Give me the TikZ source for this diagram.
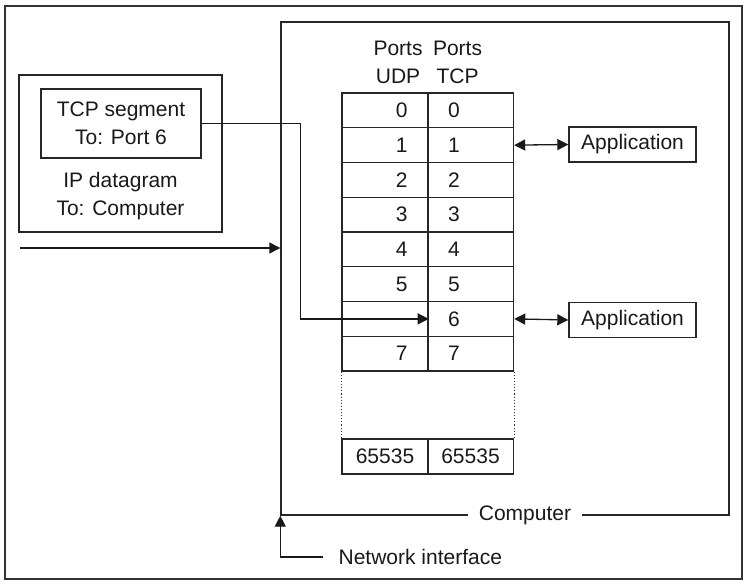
\documentclass[tikz,border=0pt]{standalone}
\usepackage{fontspec}
\setmainfont{Liberation Sans}
\usetikzlibrary{arrows.meta}
\begin{document}
\begin{tikzpicture}[x=1pt,y=-1pt,
  line width=1.3pt,
  every node/.style={font=\fontsize{21}{28}\selectfont, inner sep=0pt, text=black!90},
  box/.style={draw=black!85, line width=1.4pt},
  udpcell/.style={box, minimum width=86pt, minimum height=34.75pt, text width=45pt, align=right},
  tcpcell/.style={box, minimum width=86pt, minimum height=34.75pt, text width=45pt, align=left},
  maxcell/.style={box, minimum width=86pt, minimum height=35pt, align=center},
  appbox/.style={box, minimum width=127pt, minimum height=35pt},
  arr/.style={draw=black!90, line width=1.3pt, -{Triangle[length=11pt,width=11pt]}},
  dblarr/.style={draw=black!90, line width=1.3pt, {Triangle[length=11pt,width=11pt]}-{Triangle[length=11pt,width=11pt]}}
]
\useasboundingbox (0,0) rectangle (751,585);
% outer frame
\draw[draw=black!80, line width=1.4pt] (5,6) rectangle (742,579);

% computer box
\node[box, minimum width=448pt, minimum height=493pt] (comp) at (505,268.5) {};
\node[fill=white, inner xsep=11pt, inner ysep=3pt] (complbl) at ([xshift=20pt]comp.south) {Computer};

% IP datagram
\node[box, minimum width=203pt, minimum height=157pt] (ip) at (120.5,153.5) {};
\node[box, minimum width=160pt, minimum height=69pt, align=center] (tcp) at (121,123.5) {TCP segment\\To: Port 6};
\node[align=center] (iplbl) at (120.5,196.5) {IP datagram\\To: Computer};

% port headers
\node[align=center] (hudp) at (398,62.5) {Ports\\UDP};
\node[align=center] (htcp) at (457.5,62.5) {Ports\\TCP};

% port table
\foreach \i in {0,1,2,3,4,5,7}{
  \node[udpcell] (u\i) at (385,{93+34.75*(\i+0.5)}) {\i};
}
\node[udpcell] (u6) at (385,{93+34.75*6.5}) {};
\foreach \i in {0,...,7}{
  \node[tcpcell] (t\i) at (470.5,{93+34.75*(\i+0.5)}) {\i};
}
\node[maxcell] (umax) at (385,456.5) {65535};
\node[maxcell] (tmax) at (470.5,456.5) {65535};
\draw[dotted, line width=1.1pt, draw=black!80] (u7.south west) -- (umax.north west);
\draw[dotted, line width=1.1pt, draw=black!80] (t7.south east) -- (tmax.north east);

% applications
\node[appbox] (app1) at (632.5,144.5) {Application};
\node[appbox] (app2) at (632.5,320) {Application};
\draw[dblarr] (t1.east) -- (app1.west);
\draw[dblarr] (t6.east) -- (app2.west);

% TCP segment to port 6
\draw[arr] (tcp.east) -- ++(99,0) |- (u6.east);

% incoming datagram
\coordinate (src) at (20,248);
\draw[arr] (src) -- (src -| comp.west);

% network interface
\node[anchor=west] (net) at (338,557) {Network interface};
\draw[arr] ([xshift=-15pt]net.west) -| (comp.south west);
\end{tikzpicture}
\end{document}
